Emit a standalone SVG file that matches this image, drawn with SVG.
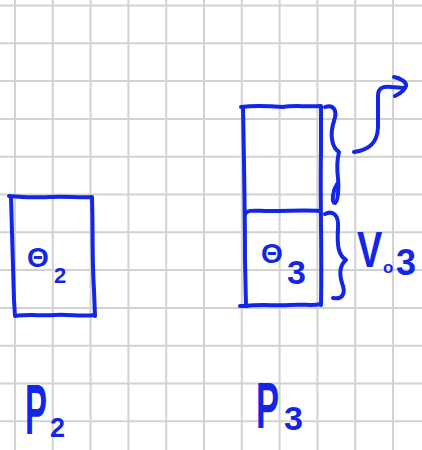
<svg xmlns="http://www.w3.org/2000/svg" width="422" height="450" viewBox="0 0 422 450">
<style>
.grid{stroke:#d2d2d2;stroke-width:2;fill:none}
.ink{stroke:#1326e6;stroke-width:4;fill:none;stroke-linecap:round;stroke-linejoin:round}
.t{fill:#1326e6;font-family:"Liberation Sans","DejaVu Sans",sans-serif;font-weight:bold}
</style>
<rect width="422" height="450" fill="#ffffff"/>
<g id="grid">
<path class="grid" d="M15,0V450M52.8,0V450M90.6,0V450M128.4,0V450M166.2,0V450M204,0V450M241.8,0V450M279.6,0V450M317.4,0V450M355.2,0V450M393,0V450"/>
<path class="grid" d="M0,5.5H422M0,43.3H422M0,81.1H422M0,118.9H422M0,156.7H422M0,194.5H422M0,232.3H422M0,270.1H422M0,307.9H422M0,345.7H422M0,383.5H422M0,421.3H422"/>
</g>
<g id="node-o2">
<path class="ink" d="M9,196 C25,197 35,198 50,197 C65,196 80,198 92,197 C93,230 92,260 94,290 L95,316"/>
<path class="ink" d="M11,197 C12,230 13,270 14,300 L15,316 C30,314 40,316 55,315 C70,314 80,317 95,315"/>
<text class="t" x="27" y="267" font-size="28">Θ</text>
<text class="t" x="54" y="283" font-size="22">2</text>
</g>
<g id="node-o3">
<path class="ink" d="M241,107 C255,105 270,106 283,107 C295,105 305,107 321,106 L321,150 C320,200 322,250 321,305"/>
<path class="ink" d="M243,108 C244,160 245,220 245,260 L246,306 C260,304 275,306 290,305 C305,304 312,306 321,304"/>
<path class="ink" d="M245,214 C248,209 255,211 270,211 C290,211 305,210 320,211"/>
<path class="ink" d="M240,306 L247,306"/>
<text class="t" x="261" y="263" font-size="28">Θ</text>
<text class="t" x="287" y="284" font-size="34">3</text>
</g>
<g id="braces">
<path class="ink" d="M325,107 C333,104 338,110 334,121 C330,133 331,147 339,152 C337,160 337,170 338,178 C339,188 338,202 335,203 C331,203 333,190 337,184"/>
<path class="ink" d="M325,214 C333,210 339,215 338,228 C337,245 338,255 346,260 C340,265 339,273 342,283 C346,293 343,300 333,298"/>
<text class="t" transform="translate(357,267) scale(0.76,1)" font-size="50" font-weight="normal">V</text>
<text class="t" x="383" y="273" font-size="17">o</text>
<text class="t" x="396" y="275" font-size="36">3</text>
</g>
<g id="connectors">
<path class="ink" d="M354,152 C368,150 377,144 378,128 L378,96 C378,87 384,86 392,87 L404,88"/>
<path class="ink" d="M394,77 C400,78 407,82 406,86 C405,90 399,94 395,96"/>
</g>
<g id="labels">
<text class="t" transform="translate(25,434) scale(0.47,1)" font-size="70">P</text>
<text class="t" x="50" y="437" font-size="27">2</text>
<text class="t" transform="translate(256,428) scale(0.54,1)" font-size="64">P</text>
<text class="t" x="284" y="430" font-size="34">3</text>
</g>
</svg>
